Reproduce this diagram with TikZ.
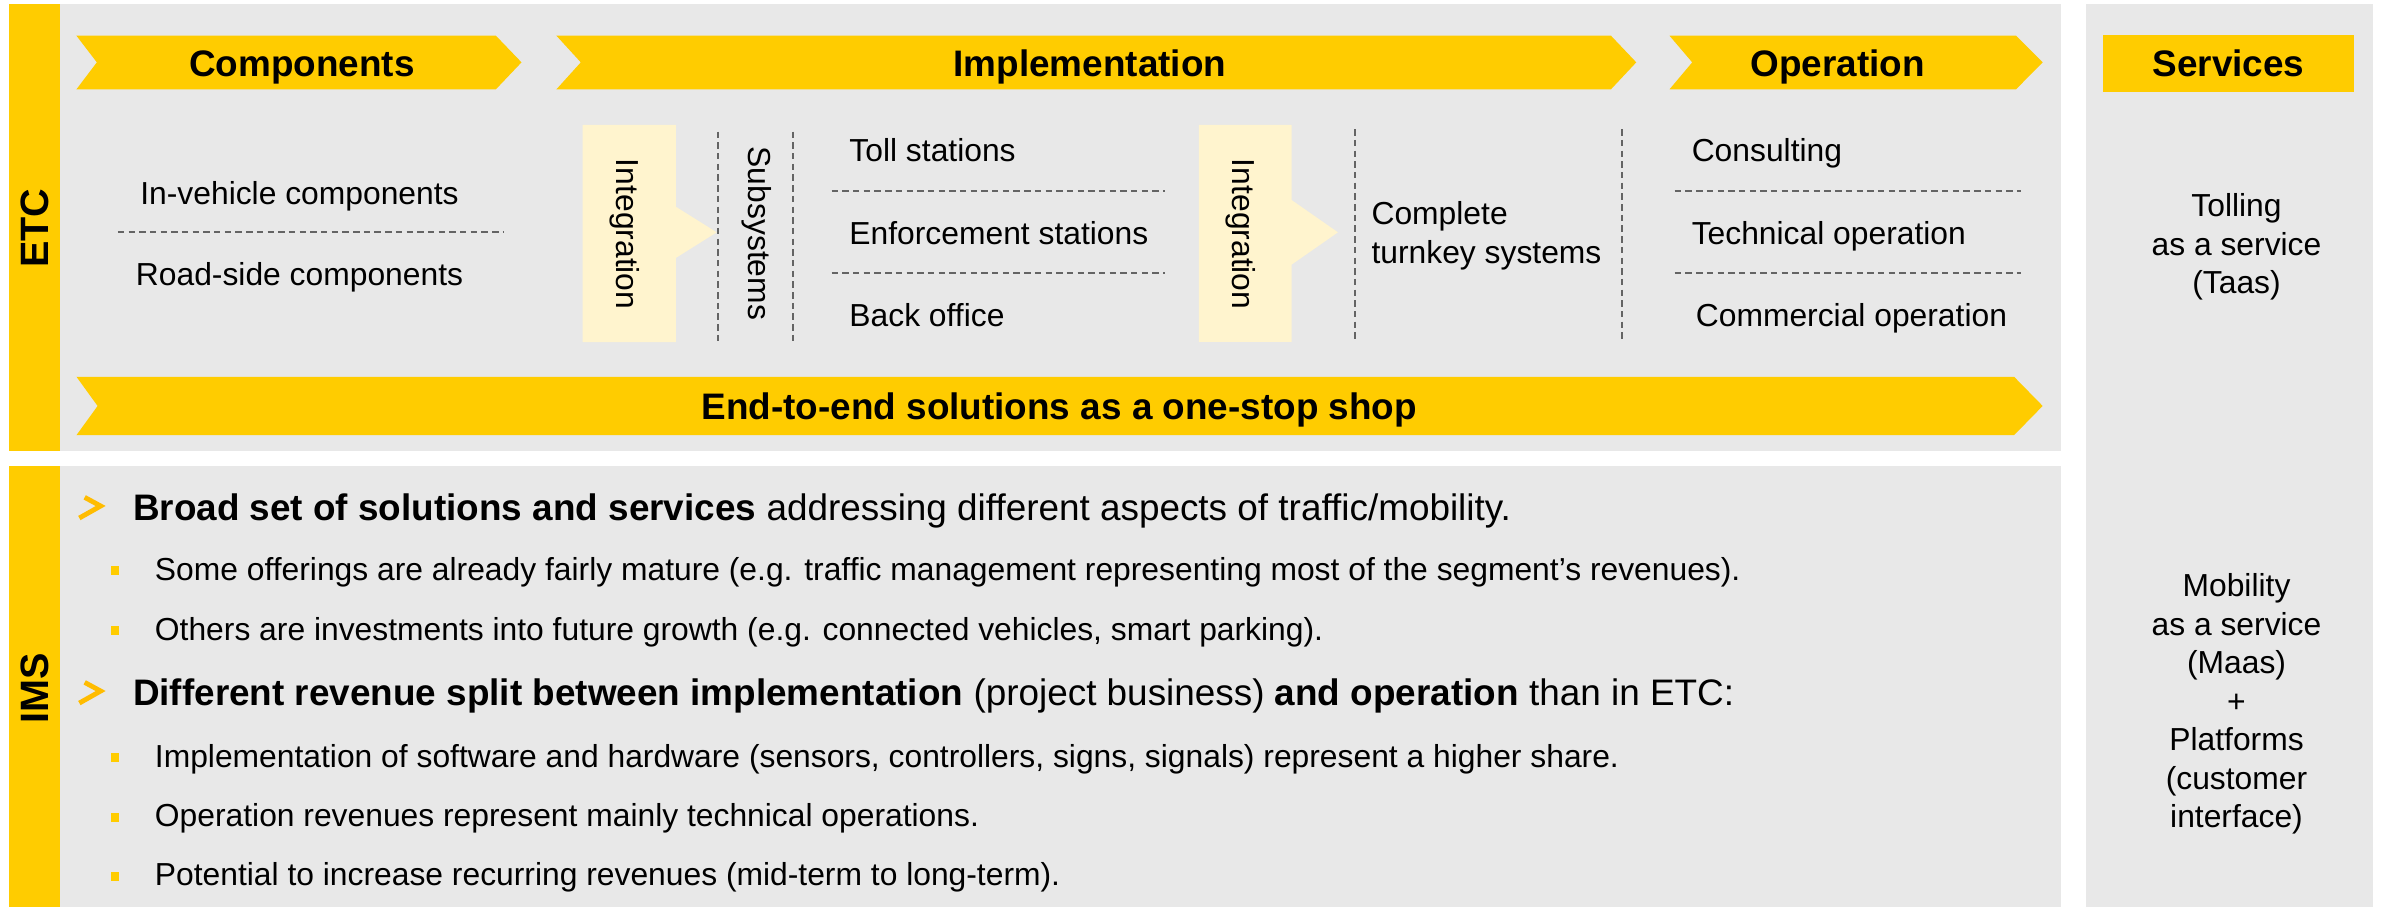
\documentclass[tikz,border=0pt]{standalone}
\usepackage{fontspec}
\setmainfont{Liberation Sans}
\usetikzlibrary{positioning, calc}
\definecolor{Gold}{RGB}{255, 204, 0}
\definecolor{PaleGold}{RGB}{255, 244, 206}
\definecolor{Panel}{RGB}{232, 232, 232}
\definecolor{Marker}{RGB}{255, 188, 0}
\definecolor{Rule}{RGB}{100, 100, 100}
\newcommand{\headfont}{\fontsize{6.9}{8.3}\selectfont\bfseries}
\newcommand{\bodyfont}{\fontsize{5.95}{7.2}\selectfont}
\newcommand{\leadfont}{\fontsize{6.9}{8.3}\selectfont}
\newcommand{\tagfont}{\fontsize{7.4}{8.9}\selectfont\bfseries}

\begin{document}
\begin{tikzpicture}[x=0.01cm, y=-0.01cm,
    headtext/.style={inner sep=0pt, text height=4.94pt, text depth=0pt, font=\headfont},
    bodytext/.style={inner sep=0pt, text height=4.26pt, text depth=0pt, font=\bodyfont},
    leadtext/.style={inner sep=0pt, text height=4.94pt, text depth=0pt, font=\leadfont},
    sidetag/.style={rotate=90, inner sep=0pt, text height=5.3pt, text depth=0pt, font=\tagfont},
    sepline/.style={Rule, line width=0.35pt, dash pattern=on 1.2pt off 0.8pt}]
    \useasboundingbox (0,0) rectangle (1568,597.2);

    % Panels
    \fill[Gold] (6,2.6) rectangle (39.6,296.4);
    \fill[Panel] (39.6,2.6) rectangle (1355.6,296.4);
    \fill[Gold] (6,306.5) rectangle (39.6,596.5);
    \fill[Panel] (39.6,306.5) rectangle (1355.6,596.5);
    \fill[Panel] (1371.8,2.6) rectangle (1560.6,596.5);
    \node[sidetag] (etc) at (22.8,150) {ETC};
    \node[sidetag] (ims) at (22.8,453) {IMS};

    % Value chain banners
    \fill[Gold] (50.3,23.5) -- (326.2,23.5) -- (343,41) -- (326.2,58.7) -- (50.3,58.7) -- (63.7,41) -- cycle;
    \node[headtext] (components) at (198.5,41.6) {Components};
    \fill[Gold] (366,23.5) -- (1059.6,23.5) -- (1076.2,41) -- (1059.6,58.7) -- (366,58.7) -- (382,41) -- cycle;
    \node[headtext] (implementation) at (716.8,41.6) {Implementation};
    \fill[Gold] (1098.1,23.5) -- (1326,23.5) -- (1343.5,41) -- (1326,58.7) -- (1098.1,58.7) -- (1113,41) -- cycle;
    \node[headtext] (operation) at (1208.7,41.6) {Operation};
    \fill[Gold] (1383,23) rectangle (1548,60.5);
    \node[headtext] (services) at (1465.8,41.8) {Services};

    % Components
    \node[bodytext] (invehicle) at (197,127.2) {In-vehicle components};
    \draw[sepline] (77.5,152.8) -- (331.6,152.8);
    \node[bodytext] (roadside) at (197,180.6) {Road-side components};

    % Integration into subsystems
    \fill[PaleGold] (383.2,82.2) -- (444.6,82.2) -- (444.6,136) -- (471.4,152.8) -- (444.6,169.6) -- (444.6,225) -- (383.2,225) -- cycle;
    \node[bodytext, rotate=-90] (integsub) at (413,154) {Integration};
    \draw[sepline] (472.5,86.6) -- (472.5,225);
    \node[bodytext, rotate=-90] (subsystems) at (500,153.5) {Subsystems};
    \draw[sepline] (521.4,86.6) -- (521.4,225);
    \node[bodytext, anchor=west] (toll) at (558,98.7) {Toll stations};
    \draw[sepline] (547,125.4) -- (766,125.4);
    \node[bodytext, anchor=west] (enforcement) at (558,153.5) {Enforcement stations};
    \draw[sepline] (547,179.3) -- (766,179.3);
    \node[bodytext, anchor=west] (backoffice) at (558,207.2) {Back office};

    % Integration into turnkey systems
    \fill[PaleGold] (788.6,82.2) -- (849.6,82.2) -- (849.6,131.6) -- (880,152.8) -- (849.6,174) -- (849.6,224.8) -- (788.6,224.8) -- cycle;
    \node[bodytext, rotate=-90] (integturn) at (818,154) {Integration};
    \draw[sepline] (891,85) -- (891,223.7);
    \node[bodytext, anchor=west] (complete) at (901.4,140.3) {Complete};
    \node[bodytext, anchor=west] (turnkey) at (901.4,165.5) {turnkey systems};
    \draw[sepline] (1067,85) -- (1067,223.7);

    % Operation
    \node[bodytext, anchor=west] (consulting) at (1112,98.7) {Consulting};
    \draw[sepline] (1101.5,125.4) -- (1329,125.4);
    \node[bodytext, anchor=west] (technical) at (1112,153.5) {Technical operation};
    \draw[sepline] (1101.5,179.3) -- (1329,179.3);
    \node[bodytext, anchor=west] (commercial) at (1114.7,207.2) {Commercial operation};

    % End-to-end banner
    \fill[Gold] (50.3,247.8) -- (1324.7,247.8) -- (1343.5,267) -- (1324.7,286.2) -- (50.3,286.2) -- (64.2,267) -- cycle;
    \node[headtext] (endtoend) at (696.7,267) {End-to-end solutions as a one-stop shop};

    % IMS statements
    \foreach \y in {333.8, 455.5}
        \draw[Marker, line width=0.9pt] (55.7,\y-6.7) -- (66.2,\y-1) -- (52.2,\y+6.9);
    \foreach \y in {374.3, 413.8, 497.1, 536.4, 575.2}
        \fill[Gold] (72.9,\y-2) rectangle (78.1,\y+4);
    \node[leadtext, anchor=west] (broad) at (86.8,333.8) {\textbf{Broad set of solutions and services} addressing different aspects of traffic/mobility.};
    \node[bodytext, anchor=west] (mature) at (101.2,374.3) {Some offerings are already fairly mature (e.g. traffic management representing most of the segment’s revenues).};
    \node[bodytext, anchor=west] (growth) at (101.2,413.8) {Others are investments into future growth (e.g. connected vehicles, smart parking).};
    \node[leadtext, anchor=west] (split) at (86.8,455.5) {\textbf{Different revenue split between implementation} (project business) \textbf{and operation} than in ETC:};
    \node[bodytext, anchor=west] (hardware) at (101.2,497.1) {Implementation of software and hardware (sensors, controllers, signs, signals) represent a higher share.};
    \node[bodytext, anchor=west] (techops) at (101.2,536.4) {Operation revenues represent mainly technical operations.};
    \node[bodytext, anchor=west] (recurring) at (101.2,575.2) {Potential to increase recurring revenues (mid-term to long-term).};

    % Services
    \node[font=\bodyfont, align=center, inner sep=0pt] (taas) at (1471,162.5) {Tolling\\as a service\\(Taas)};
    \node[font=\bodyfont, align=center, inner sep=0pt] (maas) at (1471,463) {Mobility\\as a service\\(Maas)\\+\\Platforms\\(customer\\interface)};
\end{tikzpicture}
\end{document}
